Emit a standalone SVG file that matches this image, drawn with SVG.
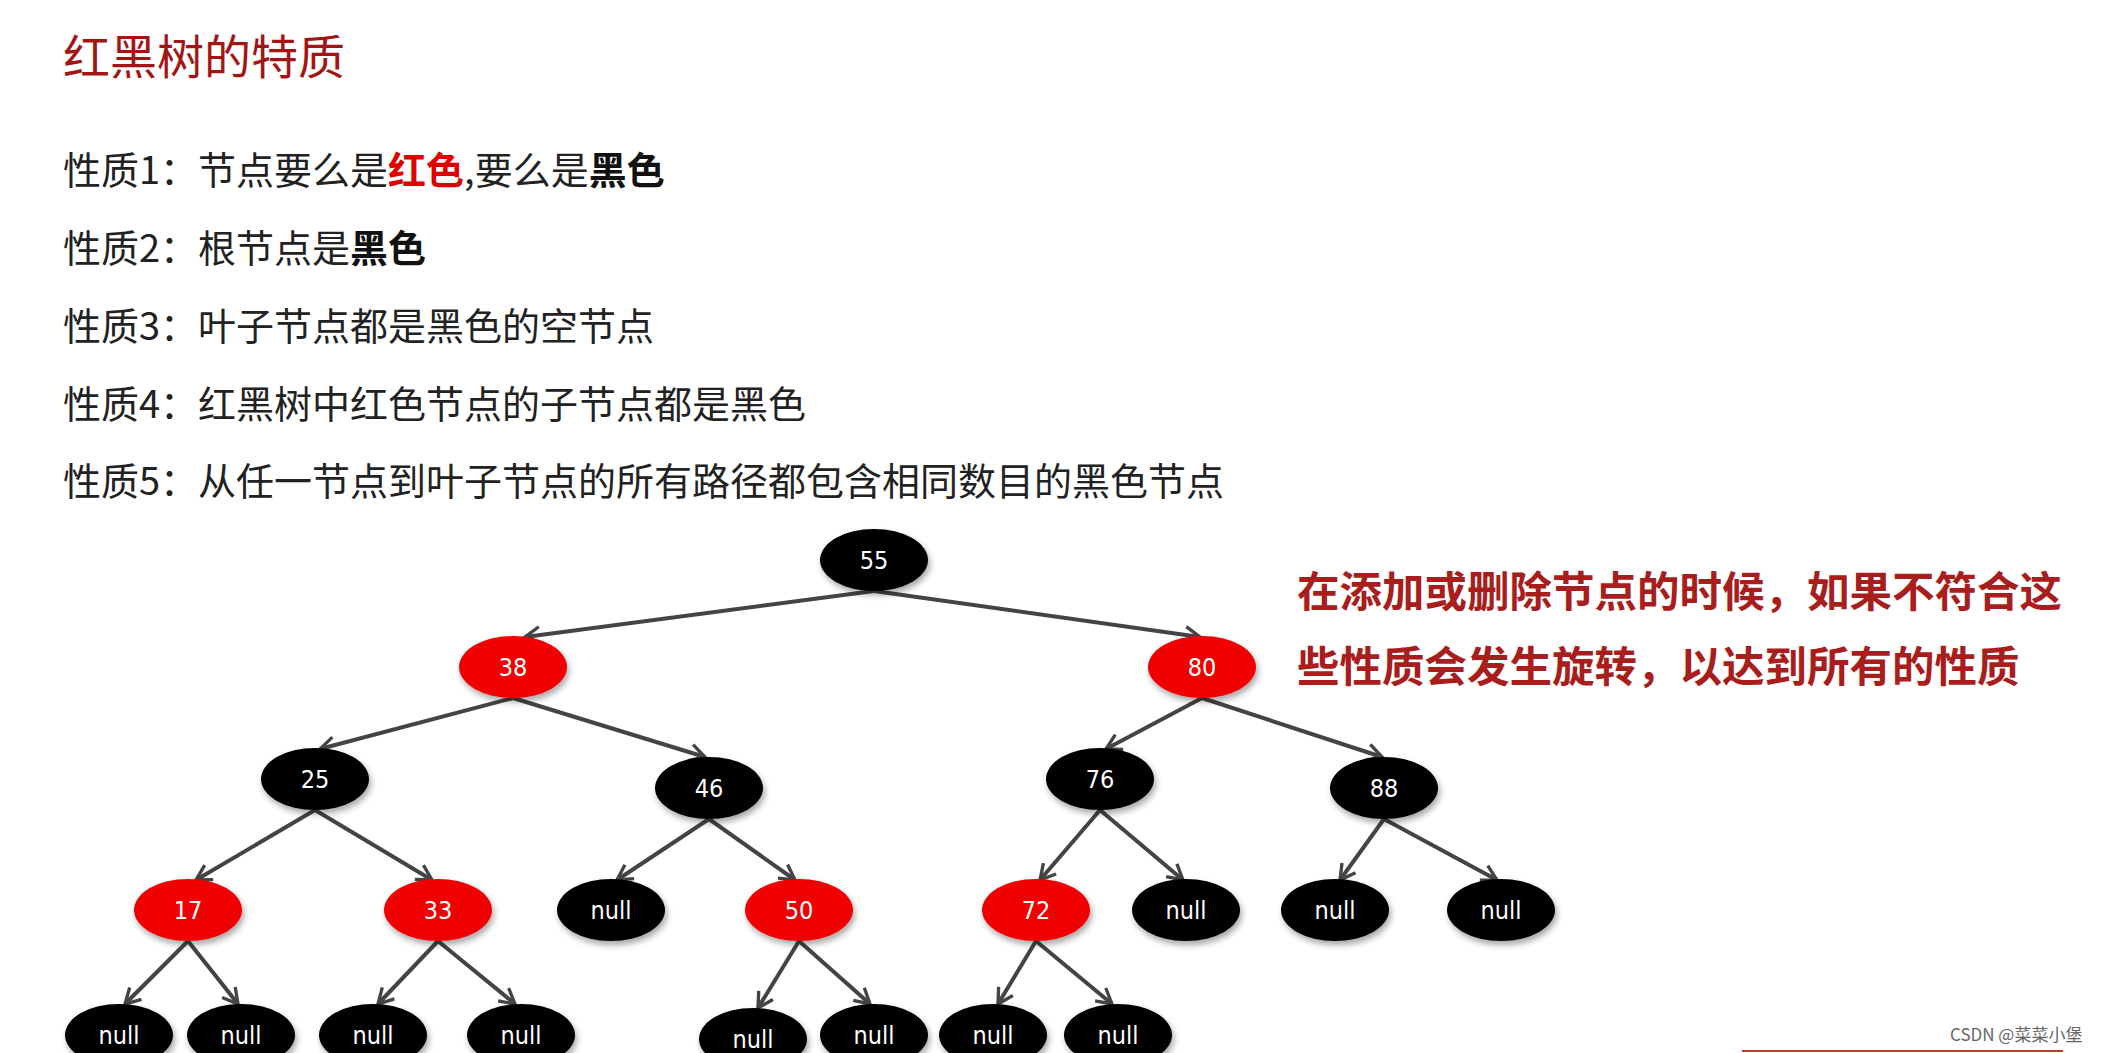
<svg xmlns="http://www.w3.org/2000/svg" width="2101" height="1053" viewBox="0 0 2101 1053">
<style>
.t{font-family:"Noto Sans CJK SC","Noto Sans",sans-serif;font-size:38px;fill:#222}
.b{font-weight:bold}
.nb{fill:#000;filter:url(#sh)}
.nr{fill:#f00000;filter:url(#sh)}
.lbl{font-family:"DejaVu Sans Condensed","DejaVu Sans",sans-serif;font-stretch:condensed;font-size:25px;fill:#fff;text-anchor:middle;dominant-baseline:central}
.e{stroke:#444;stroke-width:4;fill:none;marker-end:url(#ar)}
</style>
<defs>
<filter id="sh" x="-30%" y="-30%" width="160%" height="170%"><feDropShadow dx="2" dy="4" stdDeviation="3" flood-color="#000" flood-opacity="0.35"/></filter>
<marker id="ar" viewBox="0 0 12 12" refX="10" refY="6" markerWidth="5" markerHeight="5" orient="auto" markerUnits="strokeWidth"><path d="M1,1 L10,6 L1,11" fill="none" stroke="#444" stroke-width="2"/></marker>
</defs>
<rect width="2101" height="1053" fill="#fff"/>
<text x="63" y="74" font-family="Noto Sans CJK SC,sans-serif" font-size="47" fill="#a31515">红黑树的特质</text>
<text class="t" x="63" y="184">性质1：节点要么是<tspan class="b" fill="#e00000">红色</tspan>,要么是<tspan class="b" fill="#111">黑色</tspan></text>
<text class="t" x="63" y="262">性质2：根节点是<tspan class="b" fill="#111">黑色</tspan></text>
<text class="t" x="63" y="340">性质3：叶子节点都是黑色的空节点</text>
<text class="t" x="63" y="418">性质4：红黑树中红色节点的子节点都是黑色</text>
<text class="t" x="63" y="495">性质5：从任一节点到叶子节点的所有路径都包含相同数目的黑色节点</text>
<g font-family="Noto Sans CJK SC,sans-serif" font-size="42.5" font-weight="bold" fill="#a91d1d">
<text x="1297" y="607">在添加或删除节点的时候，如果不符合这</text>
<text x="1297" y="682">些性质会发生旋转，以达到所有的性质</text>
</g>
<g id="connectors">
<line class="e" x1="874" y1="591" x2="525" y2="637"/>
<line class="e" x1="874" y1="591" x2="1200" y2="637"/>
<line class="e" x1="513" y1="698" x2="320" y2="749"/>
<line class="e" x1="513" y1="698" x2="705" y2="757"/>
<line class="e" x1="1202" y1="698" x2="1106" y2="749"/>
<line class="e" x1="1202" y1="698" x2="1382" y2="757"/>
<line class="e" x1="315" y1="810" x2="196" y2="880"/>
<line class="e" x1="315" y1="810" x2="432" y2="880"/>
<line class="e" x1="709" y1="819" x2="617" y2="880"/>
<line class="e" x1="709" y1="819" x2="795" y2="880"/>
<line class="e" x1="1100" y1="810" x2="1040" y2="880"/>
<line class="e" x1="1100" y1="810" x2="1183" y2="880"/>
<line class="e" x1="1384" y1="819" x2="1340" y2="880"/>
<line class="e" x1="1384" y1="819" x2="1497" y2="880"/>
<line class="e" x1="188" y1="941" x2="125" y2="1004"/>
<line class="e" x1="188" y1="941" x2="238" y2="1004"/>
<line class="e" x1="438" y1="941" x2="378" y2="1004"/>
<line class="e" x1="438" y1="941" x2="515" y2="1004"/>
<line class="e" x1="799" y1="941" x2="758" y2="1008"/>
<line class="e" x1="799" y1="941" x2="870" y2="1004"/>
<line class="e" x1="1036" y1="941" x2="998" y2="1004"/>
<line class="e" x1="1036" y1="941" x2="1112" y2="1004"/>
</g>
<g id="n55"><ellipse class="nb" cx="874" cy="560" rx="54" ry="31"/><text class="lbl" x="874" y="560">55</text></g>
<g id="n38"><ellipse class="nr" cx="513" cy="667" rx="54" ry="31"/><text class="lbl" x="513" y="667">38</text></g>
<g id="n80"><ellipse class="nr" cx="1202" cy="667" rx="54" ry="31"/><text class="lbl" x="1202" y="667">80</text></g>
<g id="n25"><ellipse class="nb" cx="315" cy="779" rx="54" ry="31"/><text class="lbl" x="315" y="779">25</text></g>
<g id="n46"><ellipse class="nb" cx="709" cy="788" rx="54" ry="31"/><text class="lbl" x="709" y="788">46</text></g>
<g id="n76"><ellipse class="nb" cx="1100" cy="779" rx="54" ry="31"/><text class="lbl" x="1100" y="779">76</text></g>
<g id="n88"><ellipse class="nb" cx="1384" cy="788" rx="54" ry="31"/><text class="lbl" x="1384" y="788">88</text></g>
<g id="n17"><ellipse class="nr" cx="188" cy="910" rx="54" ry="31"/><text class="lbl" x="188" y="910">17</text></g>
<g id="n33"><ellipse class="nr" cx="438" cy="910" rx="54" ry="31"/><text class="lbl" x="438" y="910">33</text></g>
<g id="null46l"><ellipse class="nb" cx="611" cy="910" rx="54" ry="31"/><text class="lbl" x="611" y="910">null</text></g>
<g id="n50"><ellipse class="nr" cx="799" cy="910" rx="54" ry="31"/><text class="lbl" x="799" y="910">50</text></g>
<g id="n72"><ellipse class="nr" cx="1036" cy="910" rx="54" ry="31"/><text class="lbl" x="1036" y="910">72</text></g>
<g id="null76r"><ellipse class="nb" cx="1186" cy="910" rx="54" ry="31"/><text class="lbl" x="1186" y="910">null</text></g>
<g id="null88l"><ellipse class="nb" cx="1335" cy="910" rx="54" ry="31"/><text class="lbl" x="1335" y="910">null</text></g>
<g id="null88r"><ellipse class="nb" cx="1501" cy="910" rx="54" ry="31"/><text class="lbl" x="1501" y="910">null</text></g>
<g id="null17l"><ellipse class="nb" cx="119" cy="1035" rx="54" ry="31"/><text class="lbl" x="119" y="1035">null</text></g>
<g id="null17r"><ellipse class="nb" cx="241" cy="1035" rx="54" ry="31"/><text class="lbl" x="241" y="1035">null</text></g>
<g id="null33l"><ellipse class="nb" cx="373" cy="1035" rx="54" ry="31"/><text class="lbl" x="373" y="1035">null</text></g>
<g id="null33r"><ellipse class="nb" cx="521" cy="1035" rx="54" ry="31"/><text class="lbl" x="521" y="1035">null</text></g>
<g id="null50l"><ellipse class="nb" cx="753" cy="1039" rx="54" ry="31"/><text class="lbl" x="753" y="1039">null</text></g>
<g id="null50r"><ellipse class="nb" cx="874" cy="1035" rx="54" ry="31"/><text class="lbl" x="874" y="1035">null</text></g>
<g id="null72l"><ellipse class="nb" cx="993" cy="1035" rx="54" ry="31"/><text class="lbl" x="993" y="1035">null</text></g>
<g id="null72r"><ellipse class="nb" cx="1118" cy="1035" rx="54" ry="31"/><text class="lbl" x="1118" y="1035">null</text></g>
<line x1="1742" y1="1051" x2="2063" y2="1051" stroke="#c0392b" stroke-width="2"/>
<text x="1950" y="1041" font-family="Noto Sans CJK SC,sans-serif" font-size="17" fill="#666">CSDN @菜菜小堡</text>
</svg>
